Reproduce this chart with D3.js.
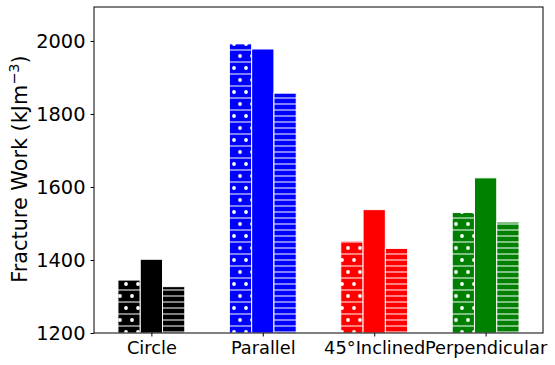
<!DOCTYPE html>
<html lang="en">
<head>
    <meta charset="UTF-8">
    <title>Fracture Work</title>
    <script src="https://d3js.org/d3.v7.min.js"></script>
    <style>
        body { margin: 0; background: #fff; }
        svg { display: block; }
        text { font-family: "DejaVu Sans", sans-serif; fill: #000; }
    </style>
</head>
<body>
    <svg id="chart"></svg>

    <script>
        // data
        var categories = ["Circle", "Parallel", "45°Inclined", "Perpendicular"];
        var colors = ["black", "blue", "red", "green"];
        var dotted = [1345, 1992, 1452, 1530];
        var solid = [1402, 1978, 1538, 1625];
        var striped = [1327, 1857, 1432, 1504];
        var yTicks = [1200, 1400, 1600, 1800, 2000];

        var width = 555, height = 365;
        // plot area (note: "top" is reserved on window, so use a margin object)
        var m = { left: 94, right: 543, top: 7, bottom: 333 };
        var barW = 0.2;

        var svg = d3.select("#chart")
            .attr("width", width)
            .attr("height", height);

        var x = d3.scaleLinear().domain([-0.515, 3.515]).range([m.left, m.right]);
        var y = d3.scaleLinear().domain([1200, 2093]).range([m.bottom, m.top]);

        // hatch patterns, one pair per colour
        var defs = svg.append("defs");
        colors.forEach(function(c, i) {
            var p = defs.append("pattern")
                .attr("id", "dots" + i)
                .attr("patternUnits", "userSpaceOnUse")
                .attr("x", 0).attr("y", 1)
                .attr("width", 12).attr("height", 24);
            p.append("rect").attr("width", 12).attr("height", 24).attr("fill", c);
            p.append("rect").attr("y", 0).attr("width", 12).attr("height", 2)
                .attr("fill", "white").attr("fill-opacity", 0.5);
            p.append("rect").attr("y", 12).attr("width", 12).attr("height", 2)
                .attr("fill", "white").attr("fill-opacity", 0.5);
            p.append("circle").attr("cx", 0).attr("cy", 7).attr("r", 1.9).attr("fill", "white");
            p.append("circle").attr("cx", 12).attr("cy", 7).attr("r", 1.9).attr("fill", "white");
            p.append("circle").attr("cx", 6).attr("cy", 19).attr("r", 1.9).attr("fill", "white");

            var q = defs.append("pattern")
                .attr("id", "lines" + i)
                .attr("patternUnits", "userSpaceOnUse")
                .attr("x", 0).attr("y", 1)
                .attr("width", 12).attr("height", 6);
            q.append("rect").attr("width", 12).attr("height", 6).attr("fill", c);
            q.append("rect").attr("y", 0).attr("width", 12).attr("height", 2)
                .attr("fill", "white").attr("fill-opacity", 0.5);
        });

        var series = [
            { values: dotted, offset: -barW, fill: function(i) { return "url(#dots" + i + ")"; } },
            { values: solid, offset: 0, fill: function(i) { return colors[i]; } },
            { values: striped, offset: barW, fill: function(i) { return "url(#lines" + i + ")"; } }
        ];

        series.forEach(function(s) {
            svg.append("g").selectAll("rect")
                .data(s.values)
                .enter().append("rect")
                .attr("x", function(d, i) { return x(i + s.offset - barW / 2); })
                .attr("width", x(barW) - x(0))
                .attr("y", function(d) { return y(d); })
                .attr("height", function(d) { return y(1200) - y(d); })
                .attr("fill", function(d, i) { return s.fill(i); })
                .attr("stroke", "white")
                .attr("stroke-width", 1);
        });

        // axes
        var xAxis = d3.axisBottom(x)
            .tickValues(d3.range(categories.length))
            .tickFormat(function(d) { return categories[d]; })
            .tickSizeInner(3.5).tickSizeOuter(0).tickPadding(5);
        var gx = svg.append("g")
            .attr("transform", "translate(0," + m.bottom + ")")
            .call(xAxis);
        gx.selectAll("text").style("font-size", "17.8px");

        var yAxis = d3.axisLeft(y)
            .tickValues(yTicks)
            .tickFormat(d3.format("d"))
            .tickSizeInner(3.5).tickSizeOuter(0).tickPadding(5);
        var gy = svg.append("g")
            .attr("transform", "translate(" + m.left + ",0)")
            .call(yAxis);
        gy.selectAll("text").style("font-size", "19.4px");
        gy.select(".domain").remove();
        gx.select(".domain").remove();

        svg.append("rect")
            .attr("x", m.left).attr("y", m.top)
            .attr("width", m.right - m.left).attr("height", m.bottom - m.top)
            .attr("fill", "none").attr("stroke", "#000").attr("stroke-width", 1);

        svg.selectAll(".tick line").attr("stroke", "#000");

        var label = svg.append("text")
            .attr("transform", "translate(27," + ((m.top + m.bottom) / 2 - 1) + ") rotate(-90)")
            .attr("text-anchor", "middle")
            .style("font-size", "20.8px");
        label.append("tspan").text("Fracture Work (kJm");
        label.append("tspan").attr("dy", -8).style("font-size", "14.5px").text("\u22123");
        label.append("tspan").attr("dy", 8).text(")");
    </script>
</body>
</html>
